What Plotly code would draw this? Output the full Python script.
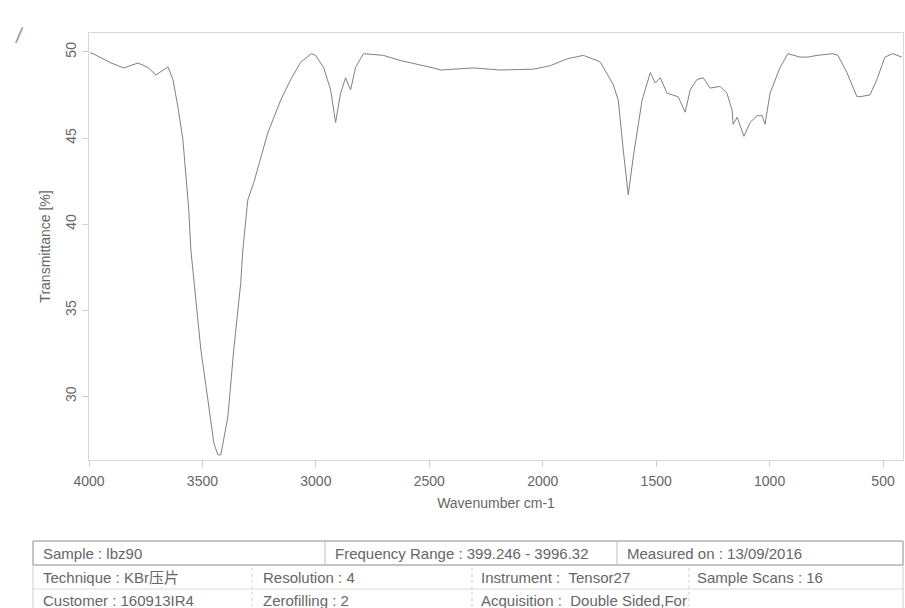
import plotly.graph_objects as go

# ---- data ----
wavenumber = [3995, 3982, 3903, 3846, 3784, 3740, 3705, 3670, 3652, 3630, 3608, 3586, 3573, 3560,
              3551, 3529, 3507, 3476, 3450, 3432, 3419, 3388, 3362, 3331, 3322, 3300,
              3274, 3212, 3155, 3111, 3067, 3020, 3001, 2966, 2935, 2913, 2891, 2869,
              2847, 2825, 2790, 2702, 2627, 2482, 2451, 2306, 2187, 2041, 1967,
              1892, 1821, 1760, 1746, 1689, 1667, 1645, 1623, 1601, 1562, 1526,
              1504, 1482, 1452, 1403, 1372, 1350, 1320, 1293, 1262, 1218, 1188,
              1165, 1161, 1143, 1113, 1086, 1055, 1033, 1020, 998, 954, 919, 866,
              831, 791, 721, 699, 659, 615, 602, 558, 527, 492, 457, 417]
transmittance = [49.95, 49.9, 49.36, 49.07, 49.36, 49.1, 48.66, 48.95, 49.13, 48.4, 46.8, 44.9, 43.0, 40.8,
                 38.5, 35.6, 32.7, 29.8, 27.3, 26.6, 26.6, 28.8, 32.7, 36.6, 38.5, 41.4,
                 42.4, 45.3, 47.2, 48.4, 49.4, 49.9, 49.8, 49.1, 47.8, 45.9, 47.6, 48.5,
                 47.8, 49.1, 49.9, 49.8, 49.5, 49.07, 48.95, 49.07, 48.95, 49.0, 49.2,
                 49.6, 49.8, 49.5, 49.4, 48.1, 47.2, 44.3, 41.7, 43.9, 47.2, 48.8,
                 48.2, 48.5, 47.6, 47.4, 46.5, 47.8, 48.4, 48.5, 47.9, 48.0, 47.6,
                 46.6, 45.8, 46.2, 45.1, 45.9, 46.3, 46.3, 45.8, 47.6, 49.1, 49.9, 49.7,
                 49.7, 49.8, 49.9, 49.8, 48.8, 47.4, 47.4, 47.5, 48.4, 49.7, 49.9, 49.7]

x_ticks = [4000, 3500, 3000, 2500, 2000, 1500, 1000, 500]
y_ticks = [30, 35, 40, 45, 50]

# info table (text)
row1_texts = ["Sample : lbz90", "Frequency Range : 399.246 - 3996.32", "Measured on : 13/09/2016"]
row2_texts = ["Technique : KBr压片", "Resolution : 4", "Instrument :\u00a0\u00a0Tensor27", "Sample Scans : 16"]
row3_texts = ["Customer : 160913IR4", "Zerofilling : 2", "Acquisition :\u00a0\u00a0Double Sided,For", ""]

# ---- layout geometry (pixels) ----
W, H = 905, 608
L, R, T, B = 89, 903, 33, 460
FONT = "Liberation Sans, Arial, Noto Sans CJK SC, sans-serif"
TXT = "#666666"

def px(xp):
    return (xp - L) / (R - L)

def py(yp):
    return (B - yp) / (B - T)

fig = go.Figure()
fig.add_trace(go.Scatter(x=wavenumber, y=transmittance, mode="lines",
                         line=dict(color="#808080", width=1), showlegend=False,
                         hoverinfo="skip"))

axis_common = dict(showgrid=False, zeroline=False, showline=True, linecolor="#d8d8d8",
                   linewidth=1, mirror=True, ticks="outside", ticklen=6, tickcolor="#d0d0d0",
                   tickfont=dict(family=FONT, size=14, color=TXT))

fig.update_xaxes(range=[4000, 412], tickvals=x_ticks, ticktext=[str(v) for v in x_ticks],
                 title=dict(text="Wavenumber cm-1", font=dict(family=FONT, size=14, color=TXT),
                            standoff=10),
                 ticklabelstandoff=2, **axis_common)
fig.update_yaxes(range=[26.3, 51.1], tickvals=y_ticks, ticktext=[str(v) for v in y_ticks],
                 tickangle=-90,
                 title=dict(text="Transmittance [%]", font=dict(family=FONT, size=14, color=TXT),
                            standoff=9),
                 **axis_common)

shapes = []
annotations = []

tx0, tx1 = 33, 903
r_top, r1b, r2b, r3b = 541, 565, 589, 613

# row 1 box (darker)
shapes.append(dict(type="rect", xref="paper", yref="paper", x0=px(tx0), x1=px(tx1),
                   y0=py(r1b), y1=py(r_top), line=dict(color="#8a8a8a", width=1)))
for xd in [325, 617]:
    shapes.append(dict(type="line", xref="paper", yref="paper", x0=px(xd), x1=px(xd),
                       y0=py(r1b), y1=py(r_top), line=dict(color="#bdbdbd", width=1)))
# rows 2-3 outline
for xd in [tx0, tx1]:
    shapes.append(dict(type="line", xref="paper", yref="paper", x0=px(xd), x1=px(xd),
                       y0=py(r3b), y1=py(r1b), line=dict(color="#cfcfcf", width=1)))
for yd in [r2b, r3b - 1]:
    shapes.append(dict(type="line", xref="paper", yref="paper", x0=px(tx0), x1=px(tx1),
                       y0=py(yd), y1=py(yd), line=dict(color="#dcdcdc", width=1)))
for xd in [252, 472, 689]:
    shapes.append(dict(type="line", xref="paper", yref="paper", x0=px(xd), x1=px(xd),
                       y0=py(r3b), y1=py(r1b), line=dict(color="#cfcfcf", width=1, dash="dot")))

row1_x = [41, 333, 625]
row23_x = [41, 261, 479, 695]

def add_text(xp, yp, s):
    if not s:
        return
    annotations.append(dict(xref="paper", yref="paper", x=px(xp), y=py(yp), text=s,
                            showarrow=False, xanchor="left", yanchor="middle",
                            font=dict(family=FONT, size=15, color=TXT)))

for xp, s in zip(row1_x, row1_texts):
    add_text(xp, (r_top + r1b) / 2, s)
for xp, s in zip(row23_x, row2_texts):
    add_text(xp, (r1b + r2b) / 2, s)
for xp, s in zip(row23_x, row3_texts):
    add_text(xp, (r2b + r3b) / 2 - 1, s)

# small pen mark at the top-left corner of the scan
annotations.append(dict(xref="paper", yref="paper", x=px(12), y=py(20), text="/",
                        showarrow=False, textangle=8,
                        font=dict(family=FONT, size=22, color="#a0a0a0")))

fig.update_layout(width=W, height=H, margin=dict(l=L, r=W - R, t=T, b=H - B),
                  paper_bgcolor="white", plot_bgcolor="white",
                  shapes=shapes, annotations=annotations)

fig.write_html("out.html")
